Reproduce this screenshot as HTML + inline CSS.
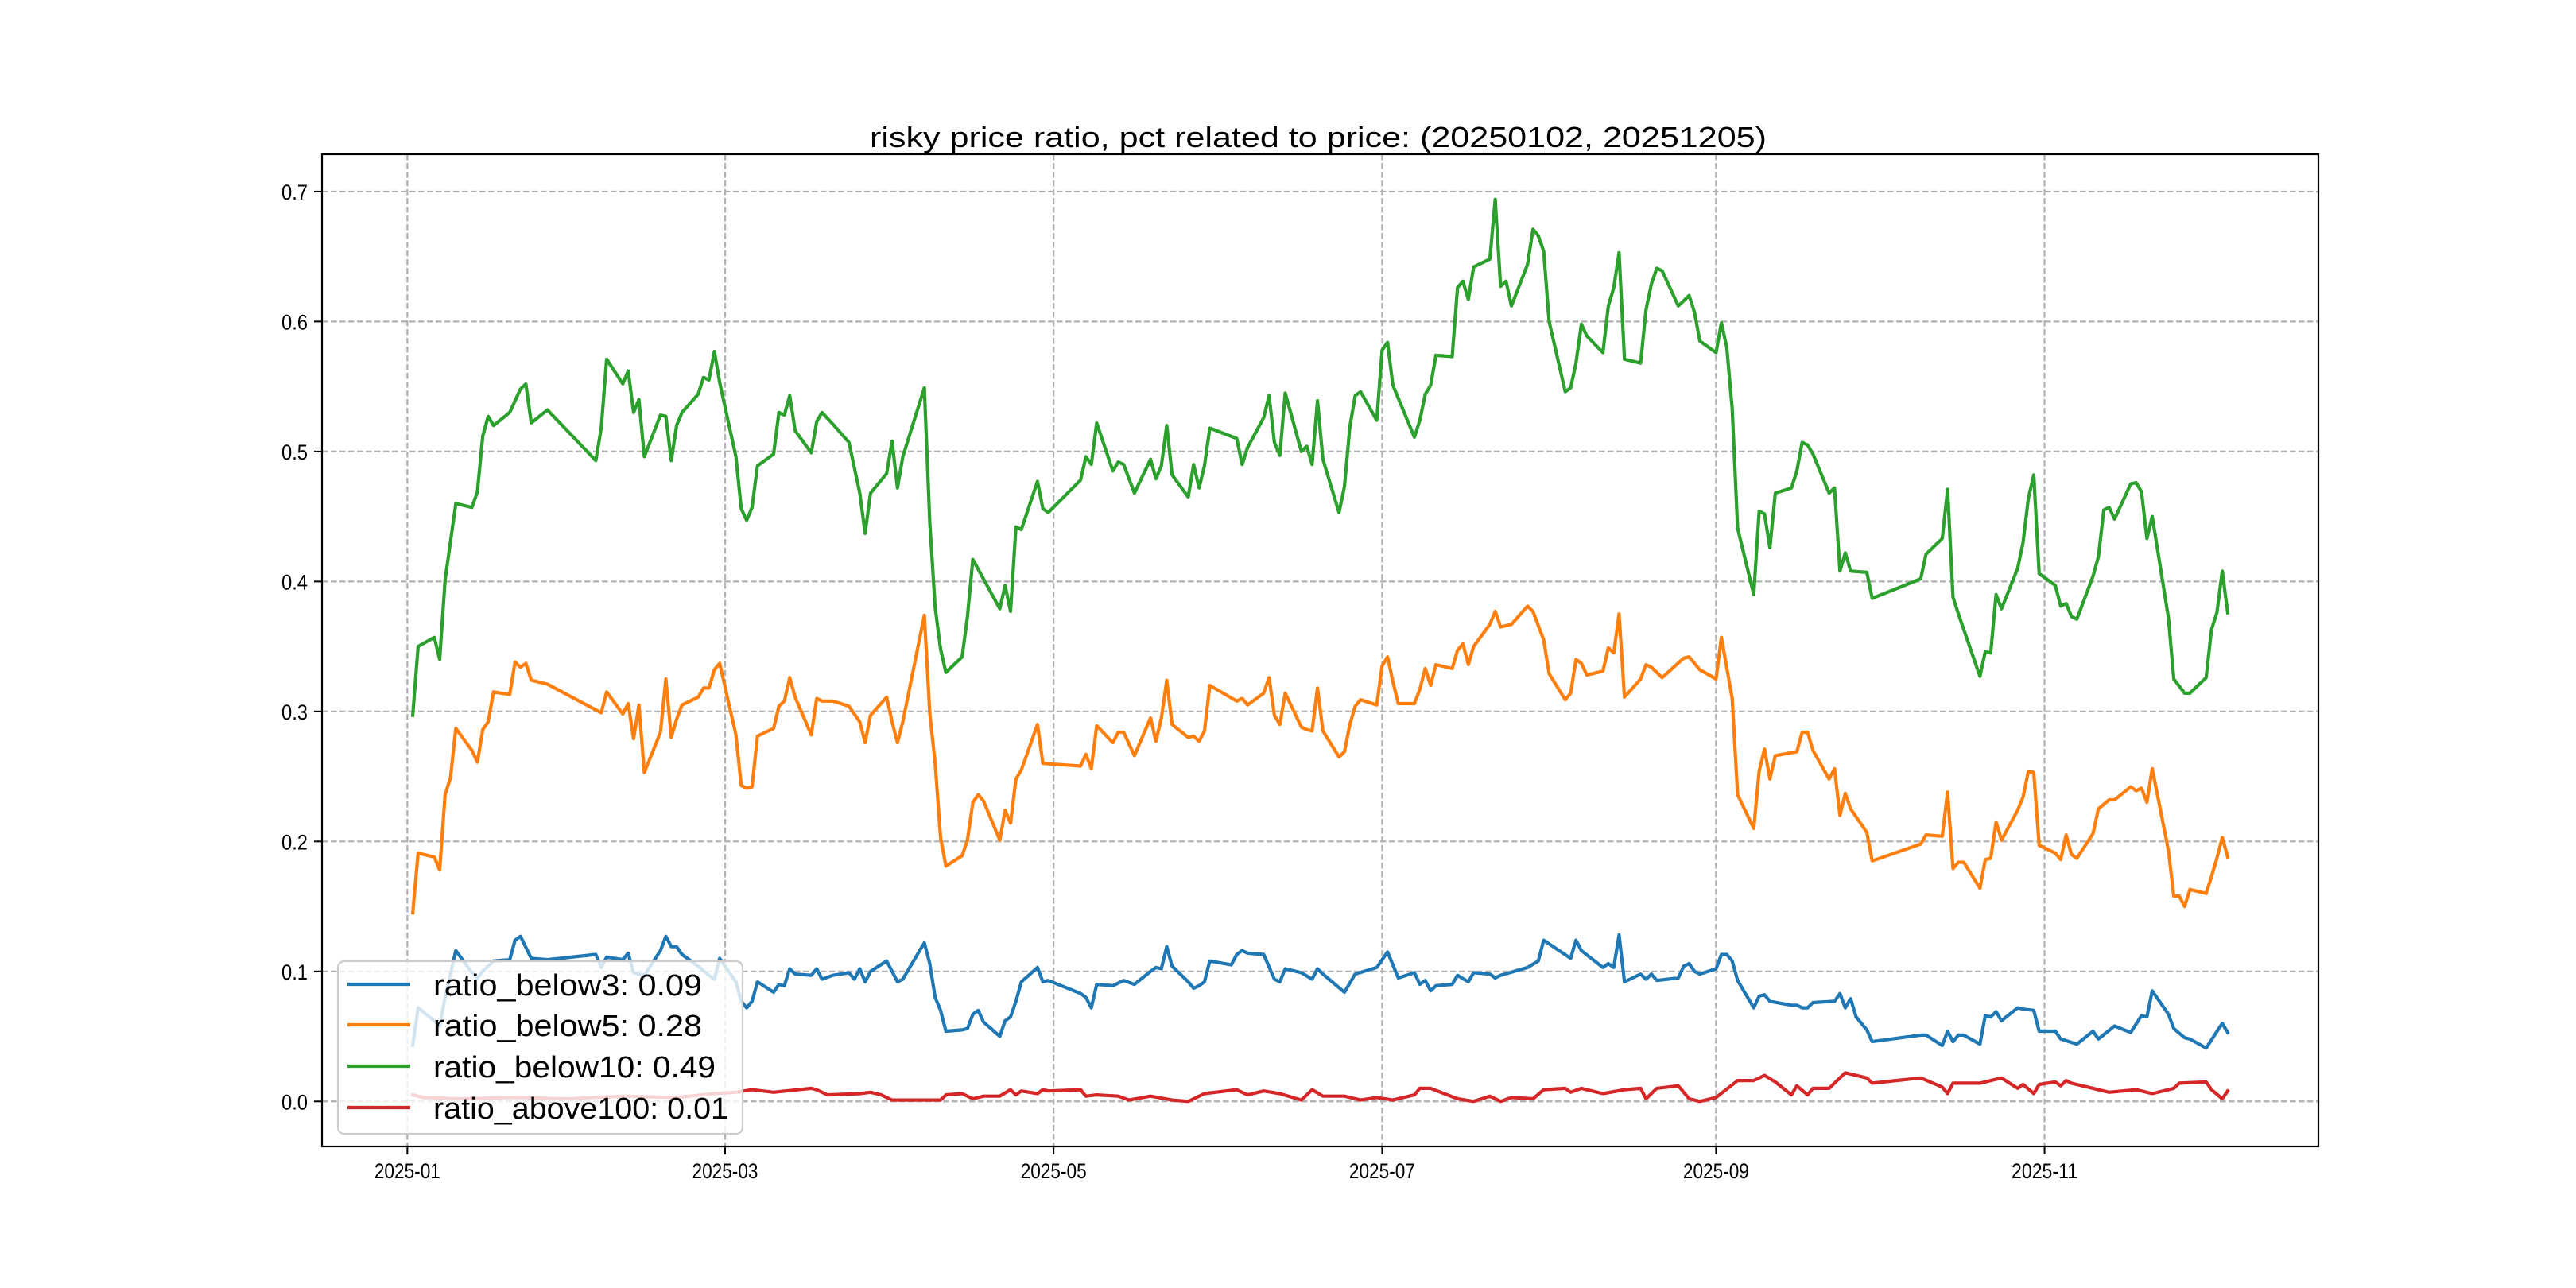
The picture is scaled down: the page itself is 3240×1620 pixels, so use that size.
<!DOCTYPE html>
<html><head><meta charset="utf-8">
<style>
html,body{margin:0;padding:0;background:#fff;}
svg{display:block;}
text{font-family:"Liberation Sans","Noto Sans CJK SC",sans-serif;fill:#000;}
</style></head>
<body>
<svg id="chart" width="3240" height="1620" viewBox="0 0 3240 1620" xmlns="http://www.w3.org/2000/svg">
<rect width="3240" height="1620" fill="#fff"/>
<g id="grid"></g>
<g id="series"></g>
<g id="axes"></g>
<text x="1658" y="185" text-anchor="middle" font-size="36" textLength="1128" lengthAdjust="spacingAndGlyphs">risky price ratio, pct related to price: (20250102, 20251205)</text>
<g id="legend"></g>
</svg>
<script>
// ---- data (days since 2025-01-01) ----
const xTickDays = [0, 59, 120, 181, 243, 304];
const xTickLabels = ["2025-01","2025-03","2025-05","2025-07","2025-09","2025-11"];
const yTickValues = [0.0,0.1,0.2,0.3,0.4,0.5,0.6,0.7];
const yTickLabels = ["0.0","0.1","0.2","0.3","0.4","0.5","0.6","0.7"];
const seriesNames = ["ratio_below3: 0.09","ratio_below5: 0.28","ratio_below10: 0.49","ratio_above100: 0.01"];

const greenDays = [1,2,5,6,7,9,12,13,14,15,
16,19,20,21,22,23,26,35,36,37,
40,41,42,43,44,47,48,49,50,51,
54,55,56,57,58,61,62,63,64,65,
68,69,70,71,72,75,76,77,79,82,
84,85,86,89,90,91,92,96,97,98,
99,100,103,104,105,110,111,112,113,114,
117,118,119,125,126,127,128,131,132,133,
135,138,139,140,141,142,145,146,147,148,
149,154,155,156,159,160,161,162,163,166,
167,168,169,170,173,174,175,176,177,180,
181,182,183,187,188,189,190,191,194,195,
196,197,198,201,202,203,204,205,208,209,
210,211,212,215,216,217,218,219,222,223,
224,225,226,229,230,231,232,233,236,237,
238,239,240,243,244,245,246,247,250,251,
252,253,254,257,258,259,260,261,264,265,
266,267,268,271,272,281,282,285,286,287,
288,292,293,294,295,296,299,300,301,302,
303,306,307,308,309,310,313,314,315,316,
317,320,321,322,323,324,327,328,330,331,
334,335,336,337,338];
const greenVals = [.297,.350,.357,.340,.401,.460,.457,.469,.512,.527,
.520,.530,.539,.548,.552,.522,.532,.493,.518,.571,
.552,.562,.530,.540,.496,.528,.527,.493,.520,.530,
.544,.557,.555,.577,.553,.496,.456,.447,.457,.489,
.498,.530,.528,.543,.516,.499,.523,.530,.521,.507,
.468,.437,.468,.483,.508,.472,.496,.549,.446,.380,
.348,.330,.342,.373,.417,.379,.397,.377,.442,.440,
.477,.456,.453,.478,.496,.490,.522,.485,.492,.490,
.468,.494,.479,.489,.520,.482,.465,.490,.472,.489,
.518,.510,.490,.503,.526,.543,.507,.497,.545,.500,
.504,.490,.539,.494,.453,.473,.519,.543,.546,.524,
.578,.584,.551,.511,.524,.544,.551,.574,.573,.626,
.631,.617,.642,.648,.694,.627,.631,.612,.644,.671,
.666,.654,.600,.546,.549,.568,.598,.589,.576,.612,
.626,.653,.571,.568,.609,.629,.641,.639,.612,.616,
.620,.607,.585,.576,.599,.580,.533,.441,.390,.454,
.452,.426,.468,.472,.485,.507,.505,.498,.468,.472,
.408,.422,.408,.407,.387,.402,.421,.433,.471,.388,
.375,.327,.346,.345,.390,.379,.410,.430,.464,.482,
.406,.397,.381,.383,.373,.371,.404,.419,.455,.457,
.448,.475,.476,.469,.433,.450,.372,.325,.314,.314,
.326,.363,.376,.408,.376];

const orangeDays = [1,2,5,6,7,8,9,12,13,14,
15,16,19,20,21,22,23,26,36,37,
40,41,42,43,44,47,48,49,50,51,
54,55,56,57,58,61,62,63,64,65,
68,69,70,71,72,75,76,77,79,82,
84,85,86,89,90,91,92,96,97,98,
99,100,103,104,105,106,107,110,111,112,
113,114,117,118,125,126,127,128,131,132,
133,135,138,139,140,141,142,145,146,147,
148,149,154,155,156,159,160,161,162,163,
166,167,168,169,170,173,174,175,176,177,
180,181,182,183,184,187,188,189,190,191,
194,195,196,197,198,201,202,203,205,208,
209,211,212,215,216,217,218,219,222,223,
224,225,226,229,230,231,233,237,238,240,
243,244,246,247,250,251,252,253,254,258,
259,260,261,264,265,266,267,268,271,272,
281,282,285,286,287,288,289,292,293,294,
295,296,299,300,301,302,303,306,307,308,
309,310,313,314,316,317,320,321,322,323,
324,327,328,329,330,331,334,335,336,337,
338];
const orangeVals = [.145,.191,.188,.178,.236,.249,.287,.270,.261,.286,
.292,.315,.313,.338,.334,.337,.324,.321,.299,.315,
.298,.306,.279,.305,.253,.284,.325,.280,.294,.305,
.311,.318,.318,.332,.337,.282,.243,.241,.242,.281,
.287,.304,.308,.326,.311,.282,.310,.308,.308,.304,
.292,.276,.297,.311,.292,.276,.292,.374,.299,.260,
.203,.181,.189,.201,.230,.236,.231,.201,.224,.214,
.248,.255,.290,.260,.258,.267,.256,.289,.276,.284,
.284,.266,.295,.277,.295,.324,.290,.280,.281,.277,
.285,.320,.308,.310,.305,.314,.326,.297,.290,.314,
.288,.286,.285,.318,.285,.265,.269,.290,.304,.309,
.305,.335,.342,.323,.306,.306,.317,.333,.320,.336,
.333,.347,.352,.336,.350,.367,.377,.365,.367,.381,
.377,.355,.329,.309,.314,.340,.337,.328,.331,.349,
.345,.375,.311,.325,.336,.334,.326,.341,.342,.332,
.325,.357,.310,.236,.210,.254,.271,.248,.266,.269,
.284,.284,.270,.248,.256,.220,.237,.225,.207,.185,
.198,.205,.204,.238,.179,.184,.184,.164,.186,.187,
.215,.201,.224,.234,.254,.253,.197,.191,.186,.205,
.190,.187,.206,.225,.232,.232,.242,.239,.241,.230,
.256,.193,.158,.158,.150,.163,.160,.173,.187,.203,
.188];

const blueDays = [1,2,5,6,7,9,12,13,14,16,
19,20,21,23,26,35,36,37,40,41,
42,44,47,48,49,50,51,54,56,57,
58,61,62,63,64,65,68,69,70,71,
72,75,76,77,79,82,83,84,85,86,
89,91,92,96,97,98,99,100,103,104,
105,106,107,110,111,112,113,114,117,118,
119,125,126,127,128,131,133,135,138,139,
140,141,142,145,146,147,148,149,153,154,
155,156,159,161,162,163,166,168,169,170,
174,176,180,182,184,187,188,189,190,191,
194,195,197,198,201,202,203,208,210,211,
216,217,218,222,223,224,225,226,229,230,
231,232,236,237,238,239,240,243,244,245,
246,247,250,251,252,253,257,258,259,260,
261,265,266,267,268,269,271,272,281,282,
285,286,287,288,289,292,293,294,295,296,
299,300,302,303,306,307,310,313,314,317,
320,322,323,324,327,328,330,331,334,337,
338];
const blueVals = [.043,.072,.062,.058,.080,.116,.099,.095,.100,.108,
.109,.124,.127,.110,.109,.113,.103,.111,.109,.114,
.099,.097,.116,.127,.119,.119,.113,.104,.097,.094,
.110,.092,.077,.072,.077,.092,.084,.090,.089,.102,
.098,.097,.102,.094,.097,.099,.094,.102,.092,.100,
.108,.092,.094,.122,.106,.080,.070,.054,.055,.056,
.067,.070,.061,.050,.062,.065,.077,.092,.103,.092,
.093,.083,.080,.072,.090,.089,.093,.090,.100,.103,
.102,.119,.104,.092,.087,.089,.092,.108,.105,.113,
.116,.114,.113,.094,.092,.102,.099,.094,.102,.098,
.084,.098,.103,.115,.095,.099,.090,.093,.085,.089,
.090,.097,.092,.099,.098,.095,.097,.103,.108,.124,
.110,.124,.116,.103,.106,.103,.128,.092,.098,.094,
.098,.093,.095,.104,.106,.100,.098,.102,.113,.113,
.108,.093,.072,.081,.082,.077,.074,.074,.072,.072,
.076,.077,.083,.072,.079,.065,.055,.046,.051,.051,
.043,.054,.046,.051,.051,.044,.066,.065,.069,.062,
.072,.071,.070,.054,.054,.048,.044,.054,.048,.058,
.053,.066,.065,.085,.067,.056,.049,.048,.041,.060,
.053];

const redDays = [1,3,10,20,30,40,50,57,61,64,
68,75,76,78,84,86,88,90,92,99,
100,103,105,107,110,112,113,114,117,118,
119,125,126,128,132,134,138,142,145,148,
154,156,159,162,166,168,170,174,177,180,
183,187,188,190,195,198,201,203,205,209,
211,215,216,218,222,226,229,230,232,236,
238,240,243,247,250,252,254,257,258,260,
261,264,267,271,272,281,285,286,287,292,
296,299,300,302,303,306,307,308,309,313,
316,321,324,328,329,334,335,337,338];
const redVals = [.005,.003,.002,.003,.002,.004,.003,.006,.007,.009,
.007,.010,.009,.005,.006,.007,.005,.001,.001,.001,
.005,.006,.002,.004,.004,.009,.005,.008,.006,.009,
.008,.009,.004,.005,.004,.001,.004,.001,.000,.006,
.009,.005,.008,.006,.001,.009,.004,.004,.001,.003,
.001,.005,.010,.010,.002,.000,.004,.000,.003,.002,
.009,.010,.007,.010,.006,.009,.010,.002,.010,.012,
.002,.000,.003,.016,.016,.020,.015,.005,.012,.005,
.010,.010,.022,.018,.014,.018,.011,.006,.014,.014,
.018,.010,.013,.006,.013,.015,.012,.016,.014,.010,
.007,.009,.006,.010,.014,.015,.009,.002,.008];

// ---- layout ----
const NS = "http://www.w3.org/2000/svg";
const L = 405, R = 2916, T = 194, B = 1442;
const allDays = greenDays.concat(orangeDays, blueDays, redDays);
const allVals = greenVals.concat(orangeVals, blueVals, redVals);
const dMin = Math.min(...allDays), dMax = Math.max(...allDays);
const vMin = Math.min(...allVals), vMax = Math.max(...allVals);
const xMin = dMin - 0.05*(dMax-dMin), xMax = dMax + 0.05*(dMax-dMin);
const yMin = vMin - 0.05*(vMax-vMin), yMax = vMax + 0.05*(vMax-vMin);
function xs(d){ return L + (d - xMin) / (xMax - xMin) * (R - L); }
function ys(v){ return B - (v - yMin) / (yMax - yMin) * (B - T); }
function mk(tag, attrs, parent){ const e = document.createElementNS(NS, tag); for (const k in attrs) e.setAttribute(k, attrs[k]); parent.appendChild(e); return e; }

const grid = document.getElementById('grid');
const axes = document.getElementById('axes');
const seriesG = document.getElementById('series');
const legendG = document.getElementById('legend');

xTickDays.forEach((d, i) => {
  const x = xs(d);
  const gl = mk('line', {x1:x, x2:x, y1:T, y2:B, stroke:'#b0b0b0', 'stroke-width':2.2, 'stroke-dasharray':'7.5,3.5'}, grid);
  
  
  const tk = mk('line', {x1:x, x2:x, y1:B, y2:B+10, stroke:'#000', 'stroke-width':2}, axes);
  
  
  const t = mk('text', {x:x, y:B+40, 'text-anchor':'middle', 'font-size':27, textLength:83, lengthAdjust:'spacingAndGlyphs'}, axes);
  t.textContent = xTickLabels[i];
  
  
});
yTickValues.forEach((v, i) => {
  const y = ys(v);
  const gl = mk('line', {x1:L, x2:R, y1:y, y2:y, stroke:'#b0b0b0', 'stroke-width':2.2, 'stroke-dasharray':'7.5,3.5'}, grid);
  
  
  const tk = mk('line', {x1:L-10, x2:L, y1:y, y2:y, stroke:'#000', 'stroke-width':2}, axes);
  
  
  const t = mk('text', {x:L-18, y:y+10, 'text-anchor':'end', 'font-size':27, textLength:33, lengthAdjust:'spacingAndGlyphs'}, axes);
  t.textContent = yTickLabels[i];
  
  
});
const frame = mk('rect', {x:L, y:T, width:R-L, height:B-T, fill:'none', stroke:'#000', 'stroke-width':2.2}, axes);



const series = [
  {days: blueDays, vals: blueVals, color:'#1f77b4', name:'line-ratio-below3'},
  {days: orangeDays, vals: orangeVals, color:'#ff7f0e', name:'line-ratio-below5'},
  {days: greenDays, vals: greenVals, color:'#2ca02c', name:'line-ratio-below10'},
  {days: redDays, vals: redVals, color:'#d62728', name:'line-ratio-above100'}
];
series.forEach(s => {
  const pts = s.days.map((d, i) => xs(d).toFixed(1) + ',' + ys(s.vals[i]).toFixed(1)).join(' ');
  const pl = mk('polyline', {points:pts, fill:'none', stroke:s.color, 'stroke-width':4.2, 'stroke-linejoin':'round', 'stroke-linecap':'square'}, seriesG);
  
  
});

// legend
const lb = mk('rect', {x:425, y:1209, width:509, height:217, rx:8, fill:'#fff', 'fill-opacity':0.8, stroke:'#cccccc', 'stroke-width':2.2}, legendG);


const rowY = [1238, 1289, 1341, 1393];
const textW = [338, 338, 355, 371];
series.forEach((s, i) => {
  const g = mk('g', {}, legendG);
  
  
  mk('line', {x1:437, x2:516, y1:rowY[i], y2:rowY[i], stroke:s.color, 'stroke-width':4.2}, g);
  const t = mk('text', {x:545, y:rowY[i]+14, 'font-size':38, textLength:textW[i], lengthAdjust:'spacingAndGlyphs'}, g);
  t.textContent = seriesNames[i];
});
</script>
</body></html>
